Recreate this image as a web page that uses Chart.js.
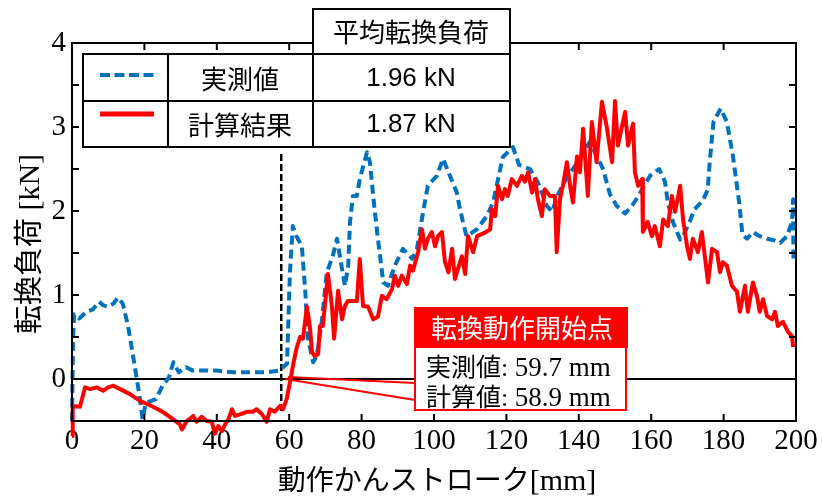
<!DOCTYPE html>
<html>
<head>
<meta charset="utf-8">
<script src="https://cdn.jsdelivr.net/npm/chart.js@4.4.1/dist/chart.umd.min.js"></script>
<style>
  html, body { margin: 0; padding: 0; background: #fff; }
</style>
</head>
<body>
<canvas id="chart" width="822" height="497"></canvas>
<script>
// measured load (blue dashed)
const measuredX = [0, 0.3, 0.6, 2, 4, 5.8, 7.5, 8.5, 10, 11.5, 12.7, 14, 15.5, 17, 18.5, 19.5, 20.3, 21.3, 23.2, 25,
  26.8, 28, 29.5, 31.5, 33.4, 36, 40, 44.5, 49, 53.6, 57.2, 58.5, 59.4, 60.2, 61, 62, 63.5, 64.4, 65.2, 66.6,
  67.6, 69, 70.4, 72, 73.2, 74, 75.4, 76.3, 76.8, 77.6, 78.7, 79.5, 81.5, 82.3, 83.2, 84.5, 86, 87.3, 89.2, 91.4,
  94, 95.3, 97, 98.3, 100.8, 102.5, 104.4, 106.3, 107, 108, 109, 111.8, 114.6, 116.3, 117.7, 119, 121.8, 123.5, 126.5, 128.6,
  131.2, 132.6, 134.3, 136.7, 140, 143, 145, 146.7, 148.6, 150.5, 152.8, 155, 157, 159.7, 162.2, 163.8, 164.6, 166, 168, 168.8,
  170.7, 172, 174.2, 175.6, 176.2, 177.2, 179.2, 180.9, 182.6, 184.3, 185.2, 186.5, 188.1, 190, 192, 194, 195.6, 197.5, 198.9, 199.2, 199.3];
const measuredY = [-0.5, 0.5, 0.77, 0.72, 0.8, 0.83, 0.92, 0.88, 0.86, 0.9, 0.97, 0.9, 0.63, 0.24, -0.16, -0.48, -0.3, -0.27, -0.24, -0.08,
  0.02, 0.2, 0.08, 0.14, 0.1, 0.1, 0.1, 0.08, 0.08, 0.08, 0.1, 0.15, 0.18, 1.27, 1.82, 1.7, 1.58, 1.07, 0.48, 0.2,
  0.27, 0.68, 1.27, 1.46, 1.67, 1.46, 1.11, 1.35, 1.87, 2.18, 2.18, 2.38, 2.7, 2.58, 2.18, 1.67, 1.15, 1.11, 1.35, 1.55,
  1.43, 1.55, 1.99, 2.3, 2.42, 2.62, 2.42, 2.22, 2.06, 1.87, 1.7, 1.78, 1.94, 2.1, 2.38, 2.64, 2.76, 2.55, 2.5, 2.35,
  2.06, 1.99, 2.2, 2.4, 2.6, 2.82, 2.65, 2.5, 2.2, 2.06, 1.97, 2.08, 2.22, 2.42, 2.5, 2.35, 2.1, 1.87, 1.66, 1.7,
  1.88, 2.02, 2.12, 2.25, 2.6, 3.06, 3.22, 3.06, 2.65, 2.1, 1.72, 1.67, 1.75, 1.7, 1.67, 1.65, 1.62, 1.7, 1.87, 2.14, 1.43];

// calculated load (red)
const calcX = [0, 0.2, 2.2, 3.6, 5, 6.9, 8.6, 10, 11.4, 13.3, 16, 18.8, 22.4, 25, 28, 29.8, 30.4, 31.7, 33.5, 34.4,
  35.8, 37.2, 38.6, 39.5, 40.4, 41.4, 42.3, 43.2, 44.2, 45, 46.4, 48.3, 50, 51, 52.5, 53.8, 54.7, 56, 57.5, 58.3,
  59.3, 60.2, 61, 62, 63, 63.8, 64.9, 65.7, 66.3, 67.1, 68, 68.5, 69.3, 70.7, 71.8, 72.4, 73.5, 74.6, 75.4, 76.2,
  78.7, 79.5, 80.4, 81.8, 83.2, 84.5, 85.6, 86.9, 88.4, 89.2, 90.1, 91.1, 92.5, 93.4, 94.2, 95.6, 96.7, 97.5, 98.3, 99.4,
  100.3, 101.1, 102.2, 103, 104, 105, 105.8, 106.6, 107.7, 108.6, 109.4, 110.8, 111.9, 113.5, 115.5, 116, 116.9, 117.7, 118.8, 119.6,
  120.4, 121.5, 122.9, 124.3, 125.1, 126, 127.1, 127.9, 128.7, 129.8, 130.6, 132, 133.4, 133.9, 134.8, 135.6, 136.7, 137.6, 138.4, 139.5,
  140.3, 141.2, 142.5, 143.6, 144.9, 146.4, 147.8, 149.2, 150, 150.8, 152.8, 153.6, 155, 155.5, 156.4, 157.5, 157.7, 159, 160.2, 161,
  162.4, 163.3, 164.6, 165.7, 166.6, 168, 168.8, 169.9, 170.7, 171.5, 172.9, 174, 174.9, 175.7, 176.8, 178.2, 179, 179.8, 180.9, 182.3,
  183.7, 184.5, 185.9, 186.7, 188.1, 189.2, 190, 190.9, 192, 193.4, 194.2, 195, 196.4, 197.8, 198.9, 199.2];
const calcY = [-0.68, -0.32, -0.33, -0.1, -0.12, -0.1, -0.14, -0.1, -0.08, -0.12, -0.18, -0.26, -0.33, -0.39, -0.48, -0.54, -0.6, -0.5, -0.44, -0.51,
  -0.45, -0.5, -0.51, -0.65, -0.56, -0.62, -0.54, -0.48, -0.36, -0.44, -0.42, -0.39, -0.39, -0.36, -0.42, -0.51, -0.36, -0.39, -0.32, -0.36,
  -0.24, -0.04, 0.15, 0.36, 0.5, 0.48, 0.86, 0.63, 0.32, 0.27, 0.3, 0.63, 0.63, 1.25, 0.87, 0.48, 1.05, 0.71, 0.87, 0.93,
  0.93, 1.43, 0.87, 0.86, 0.71, 0.74, 0.99, 0.95, 1.07, 1.23, 1.11, 1.23, 1.13, 1.35, 1.29, 1.51, 1.78, 1.55, 1.67, 1.75,
  1.58, 1.7, 1.75, 1.4, 1.27, 1.55, 1.19, 1.31, 1.46, 1.25, 1.7, 1.51, 1.7, 1.73, 1.78, 2.02, 1.94, 2.3, 2.14, 2.26,
  2.18, 2.38, 2.3, 2.42, 2.35, 2.46, 2.22, 2.38, 2.14, 1.94, 2.26, 2.18, 2.18, 1.51, 2.14, 2.3, 2.58, 2.3, 2.1, 2.65,
  2.46, 2.98, 2.18, 3.06, 2.58, 3.3, 2.98, 2.58, 3.31, 2.78, 3.18, 2.78, 3.04, 2.46, 2.3, 2.38, 1.75, 1.87, 1.7, 1.82,
  1.58, 1.9, 1.82, 2.18, 1.99, 2.3, 1.9, 1.58, 1.43, 1.67, 1.51, 1.75, 1.43, 1.15, 1.55, 1.51, 1.27, 1.39, 1.35, 1.11,
  1.04, 0.8, 1.11, 0.8, 1.15, 0.99, 0.8, 0.95, 0.75, 0.71, 0.8, 0.63, 0.68, 0.56, 0.51, 0.38];

const xTickStep = 20;
const yTickStep = 0.5;
const legendNames = ['実測値', '計算結果'];
const legendValues = ['1.96 kN', '1.87 kN'];
const legendHeader = '平均転換負荷';
const onsetTitle = '転換動作開始点';
const onsetNames = ['実測値', '計算値'];
const onsetValues = [59.7, 58.9];
const markerX = 57.8;

const SERIF = '"Liberation Serif", "Times New Roman", serif';
const GOTHIC = '"Noto Sans CJK JP", "Noto Sans", sans-serif';
const SANS = '"Liberation Sans", Arial, sans-serif';
const BLUE = '#0072BD';
const RED = '#FF0000';

function toPoints(xs, ys) {
  return xs.map((x, i) => ({ x: x, y: ys[i] }));
}

// draw a row of differently styled strings on one baseline
function drawParts(ctx, parts, x, y, align) {
  let total = 0;
  parts.forEach(p => { ctx.font = p.font; p.w = ctx.measureText(p.text).width; total += p.w; });
  let cx = align === 'left' ? x : x - total / 2;
  ctx.textAlign = 'left';
  ctx.textBaseline = 'alphabetic';
  parts.forEach(p => {
    ctx.font = p.font;
    ctx.fillStyle = p.color || '#000';
    ctx.fillText(p.text, cx, y);
    cx += p.w;
  });
}

const decor = {
  id: 'decor',
  beforeDatasetsDraw(chart) {
    const ctx = chart.ctx, a = chart.chartArea;
    const xs = chart.scales.x, ys = chart.scales.y;
    ctx.save();
    // zero line
    ctx.strokeStyle = '#000';
    ctx.lineWidth = 2;
    ctx.beginPath();
    ctx.moveTo(a.left, ys.getPixelForValue(0));
    ctx.lineTo(a.right, ys.getPixelForValue(0));
    ctx.stroke();
    // onset marker
    ctx.lineWidth = 2.5;
    ctx.setLineDash([7, 3]);
    ctx.beginPath();
    ctx.moveTo(xs.getPixelForValue(markerX), ys.getPixelForValue(2.68));
    ctx.lineTo(xs.getPixelForValue(markerX), ys.getPixelForValue(-0.4));
    ctx.stroke();
    ctx.restore();
  },
  afterDraw(chart) {
    const ctx = chart.ctx, a = chart.chartArea;
    const xs = chart.scales.x, ys = chart.scales.y;
    ctx.save();
    // frame and inward ticks
    ctx.strokeStyle = '#000';
    ctx.lineWidth = 2;
    ctx.strokeRect(a.left, a.top, a.right - a.left, a.bottom - a.top);
    ctx.beginPath();
    for (let v = xs.min; v <= xs.max; v += xTickStep) {
      const px = xs.getPixelForValue(v);
      ctx.moveTo(px, a.bottom); ctx.lineTo(px, a.bottom - 7);
      ctx.moveTo(px, a.top); ctx.lineTo(px, a.top + 7);
    }
    for (let v = ys.min; v <= ys.max + 1e-9; v += yTickStep) {
      const py = ys.getPixelForValue(v);
      ctx.moveTo(a.left, py); ctx.lineTo(a.left + 7, py);
      ctx.moveTo(a.right, py); ctx.lineTo(a.right - 7, py);
    }
    ctx.stroke();

    // axis titles
    drawParts(ctx, [
      { text: '動作かんストローク', font: '28px ' + GOTHIC },
      { text: '[mm]', font: '30px ' + SERIF }
    ], 437, 490, 'center');
    ctx.save();
    ctx.translate(39, 244);
    ctx.rotate(-Math.PI / 2);
    drawParts(ctx, [
      { text: '転換負荷', font: '29px ' + GOTHIC },
      { text: ' [kN]', font: '30px ' + SERIF }
    ], 0, 0, 'center');
    ctx.restore();

    // legend table
    ctx.fillStyle = '#fff';
    ctx.fillRect(313, 9, 197, 45);
    ctx.fillRect(83, 54, 427, 93);
    ctx.strokeStyle = '#000';
    ctx.lineWidth = 2;
    ctx.strokeRect(313, 9, 197, 45);
    ctx.strokeRect(83, 54, 427, 93);
    ctx.beginPath();
    ctx.moveTo(83, 101); ctx.lineTo(510, 101);
    ctx.moveTo(168, 54); ctx.lineTo(168, 147);
    ctx.moveTo(313, 54); ctx.lineTo(313, 147);
    ctx.stroke();

    ctx.lineWidth = 4;
    ctx.strokeStyle = BLUE;
    ctx.setLineDash([10, 4.5]);
    ctx.beginPath(); ctx.moveTo(100, 75); ctx.lineTo(154, 75); ctx.stroke();
    ctx.setLineDash([]);
    ctx.lineWidth = 5;
    ctx.strokeStyle = RED;
    ctx.beginPath(); ctx.moveTo(100, 114); ctx.lineTo(154, 114); ctx.stroke();

    ctx.fillStyle = '#000';
    ctx.textAlign = 'center';
    ctx.textBaseline = 'middle';
    ctx.font = '26px ' + GOTHIC;
    ctx.fillText(legendHeader, 411, 32);
    ctx.fillText(legendNames[0], 240, 79);
    ctx.fillText(legendNames[1], 240, 125);
    ctx.font = '26px ' + SANS;
    ctx.fillText(legendValues[0], 411, 79);
    ctx.fillText(legendValues[1], 411, 125);

    // onset annotation
    const ax0 = xs.getPixelForValue(onsetValues[0]);
    const ax1 = xs.getPixelForValue(onsetValues[1]);
    const ay = ys.getPixelForValue(0);
    ctx.strokeStyle = RED;
    ctx.lineWidth = 2;
    ctx.beginPath();
    ctx.moveTo(ax0, ay - 2); ctx.lineTo(415, 383);
    ctx.moveTo(ax1, ay); ctx.lineTo(415, 400);
    ctx.stroke();
    ctx.fillStyle = '#fff';
    ctx.fillRect(415, 347, 211, 63);
    ctx.strokeRect(415, 347, 211, 63);
    ctx.fillStyle = RED;
    ctx.fillRect(414, 307, 214, 41);
    ctx.fillStyle = '#fff';
    ctx.font = '26px ' + GOTHIC;
    ctx.textAlign = 'center';
    ctx.textBaseline = 'middle';
    ctx.fillText(onsetTitle, 522, 328);
    onsetNames.forEach((name, i) => {
      drawParts(ctx, [
        { text: name, font: '25px ' + GOTHIC },
        { text: ': ', font: '26px ' + SERIF },
        { text: onsetValues[i].toFixed(1) + ' mm', font: '27px ' + SERIF }
      ], 426, 376 + i * 30, 'left');
    });
    ctx.restore();
  }
};

new Chart(document.getElementById('chart'), {
  type: 'line',
  data: {
    datasets: [
      {
        label: '計算結果',
        data: toPoints(calcX, calcY),
        borderColor: RED,
        borderWidth: 4,
        pointRadius: 0,
        tension: 0,
        clip: false,
        borderJoinStyle: 'round'
      },
      {
        label: '実測値',
        data: toPoints(measuredX, measuredY),
        borderColor: BLUE,
        borderWidth: 4,
        borderDash: [9, 5],
        pointRadius: 0,
        tension: 0,
        clip: false,
        borderJoinStyle: 'round'
      }
    ]
  },
  options: {
    responsive: false,
    animation: false,
    layout: { padding: { top: 43, right: 26, left: 0, bottom: 0 } },
    plugins: { legend: { display: false }, tooltip: { enabled: false } },
    scales: {
      x: {
        type: 'linear', min: 0, max: 200,
        ticks: { stepSize: xTickStep, color: '#000', font: { family: SERIF, size: 29 }, padding: 3, maxRotation: 0, autoSkip: false },
        grid: { display: false, drawTicks: false },
        border: { display: false },
        afterFit: s => { s.height = 76; }
      },
      y: {
        min: -0.5, max: 4,
        ticks: {
          stepSize: yTickStep, color: '#000', font: { family: SERIF, size: 29 }, padding: 6, autoSkip: false,
          callback: v => Number.isInteger(v) ? String(v) : ''
        },
        grid: { display: false, drawTicks: false },
        border: { display: false },
        afterFit: s => { s.width = 72; }
      }
    }
  },
  plugins: [decor]
});
</script>
</body>
</html>
